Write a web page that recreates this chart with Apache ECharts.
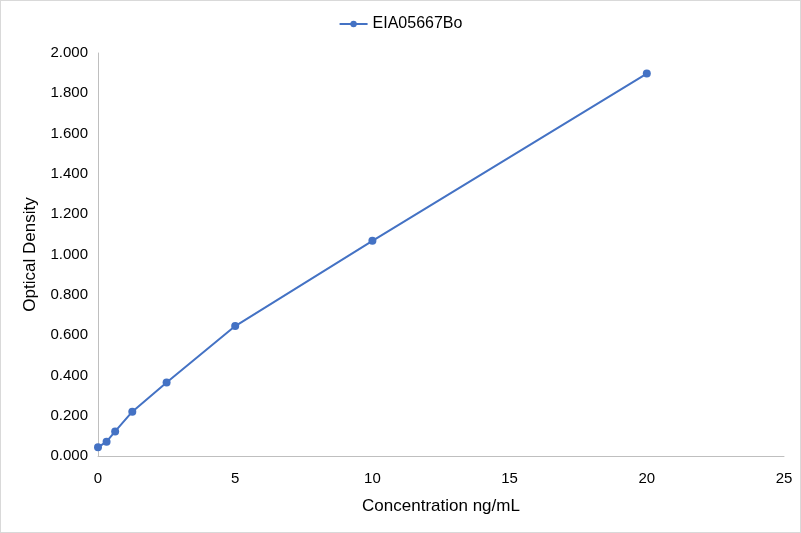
<!DOCTYPE html>
<html>
<head>
<meta charset="utf-8">
<script src="https://cdn.jsdelivr.net/npm/echarts@6/dist/echarts.min.js"></script>
<style>
html,body{margin:0;padding:0;background:#fff;}
#chart{width:799px;height:531px;border:1px solid #d9d9d9;}
</style>
</head>
<body>
<div id="chart"></div>
<script>
var seriesName = 'EIA05667Bo';
var concentration = [0, 0.3125, 0.625, 1.25, 2.5, 5, 10, 20];
var density = [0.043, 0.071, 0.122, 0.220, 0.365, 0.645, 1.068, 1.898];

var chart = echarts.init(document.getElementById('chart'));
var font = 'Liberation Sans, Arial, sans-serif';
var option = {
    animation:false,
    textStyle:{fontFamily:font},
    legend:{
        top:10,
        left:'center',
        itemWidth:28,
        itemHeight:8,
        itemGap:8,
        textStyle:{fontSize:16,color:'#000',fontFamily:font},
        data:[seriesName]
    },
    grid:{left:97,right:16,top:52,bottom:76},
    xAxis:{
        type:'value',
        min:0,
        max:25,
        interval:5,
        name:'Concentration ng/mL',
        nameLocation:'middle',
        nameGap:42,
        nameTextStyle:{fontSize:17,color:'#000'},
        axisLine:{lineStyle:{color:'#bfbfbf'}},
        axisTick:{show:false},
        axisLabel:{fontSize:15,color:'#000',margin:15},
        splitLine:{show:false}
    },
    yAxis:{
        type:'value',
        min:0,
        max:2,
        interval:0.2,
        name:'Optical Density',
        nameLocation:'middle',
        nameGap:59,
        nameTextStyle:{fontSize:17,color:'#000'},
        axisLine:{show:true,lineStyle:{color:'#bfbfbf'}},
        axisTick:{show:false},
        axisLabel:{fontSize:15,color:'#000',margin:10,formatter:function(v){return v.toFixed(3);}},
        splitLine:{show:false}
    },
    series:[{
        name:seriesName,
        type:'line',
        data:concentration.map(function(c,i){return [c,density[i]];}),
        symbol:'circle',
        symbolSize:8,
        itemStyle:{color:'#4472C4'},
        lineStyle:{color:'#4472C4',width:2}
    }]
};
chart.setOption(option);
</script>
</body>
</html>
